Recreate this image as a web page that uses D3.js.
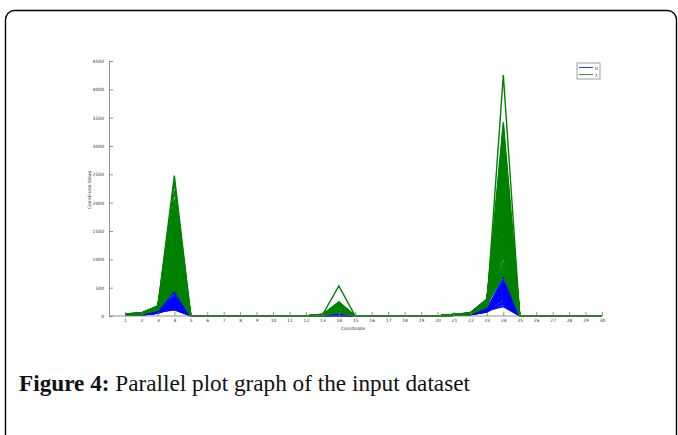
<!DOCTYPE html>
<html>
<head>
<meta charset="utf-8">
<script src="https://cdn.jsdelivr.net/npm/d3@7"></script>
<style>
  body { margin: 0; background: #fff; }
  svg { display: block; }
</style>
</head>
<body>
<svg id="chart" width="678" height="435"></svg>
<script>
// coordinates on the x axis and y tick values
var coords = [1,2,3,4,5,6,7,8,9,10,11,12,13,14,15,16,17,18,19,20,21,22,23,24,25,26,27,28,29,30];
var yTicks = [0,500,1000,1500,2000,2500,3000,3500,4000,4500];
var classNames = ['0', '1'];

// class 1 (green) values at the non-zero coordinates, one entry per line
var gC1 = [22,35,18,28,40,25,31,19,37,27,24,33,21,38,29,17,34,26,30,23,36,20,32,28,39,25,22,35,27,31,19,33,24,37,29,21,34,26,30,18,38,23,32,27,36,20,29,25,33,22,40,28,31,24,35,26,19,34,30,23];
var gC2 = [38,52,30,45,27,49,41,34,55,36,43,31,50,39,28,47,35,53,42,33,46,29,51,37,44,32,48,40,26,54,36,43,31,49,38,45,29,52,41,34,47,35,50,30,44,37,53,33,46,28,42,39,51,32,48,36,40,55,34,45];
var gC3 = [150,172,128,160,110,145,178,135,104,165,120,155,170,140,158,112,148,175,130,162,176,138,152,118,168,142,125,108,171,146,133,157,166,115,149,126,174,102,153,161,137,144,106,169,131,122,177,151,114,159,173,127,147,111,163,139,123,156,143,134];
var gC4 = [1320,2480,905,1745,620,1580,1990,1130,470,1860,760,1415,2210,1040,1690,545,1255,1905,830,1510,2360,980,1795,690,1360,1625,1085,505,1930,1190,870,1470,2060,725,1560,1005,1830,590,1290,1655,940,1400,460,1725,1150,790,1875,1235,650,1535,1960,1060,1445,560,1770,1210,880,1600,1340,1020];
var gC13 = [12,25,8,18,30,15,22,10,27,14,20,6,24,17,29,11,21,16,26,9,23,13,28,19,7,25,15,21,12,27,18,10,24,14,30,16,22,8,26,20,11,28,17,23,13,19,9,25,15,29,21,12,27,18,24,10,20,16,26,14];
var gC14 = [120,180,90,530,150,210,70,140,240,110,165,60,200,130,95,225,155,80,190,125,250,100,170,65,145,215,115,185,75,160,135,205,85,230,105,175,55,195,140,120,220,90,160,130,245,70,180,110,150,200,100,170,60,235,125,185,80,145,210,115];
var gC21 = [15,24,11,20,28,17,13,26,19,22,10,25,16,21,29,14,23,18,27,12,20,15,24,30,17,22,13,26,19,11,25,16,28,21,14,23,18,27,12,20,15,24,29,17,22,13,26,19,11,25,16,28,21,14,23,18,27,12,20,15];
var gC22 = [35,48,29,56,41,33,52,38,45,30,58,43,36,50,27,47,39,54,32,44,49,34,57,40,31,53,46,37,60,42,28,51,35,55,39,48,33,44,59,36,50,30,46,41,53,34,57,38,49,32,55,43,29,52,40,47,35,58,37,45];
var gC23 = [230,285,190,260,170,245,300,210,160,275,200,250,290,225,265,175,240,295,215,255,280,205,235,180,270,220,195,165,288,248,212,258,272,185,238,198,292,155,244,262,218,228,168,278,208,192,296,242,178,252,283,202,232,172,268,222,188,256,236,214];
var gC24 = [2140,3420,1260,2870,4250,1580,2660,960,3180,1890,2410,780,2990,1420,2230,3320,1130,2760,1710,2050,870,2580,3060,1340,2320,1950,720,2920,1610,2480,1040,3240,2180,1500,2700,1820,2380,910,2810,1190,2000,3110,1660,2540,1280,2950,820,2270,1760,2620,1380,3010,1930,2450,1090,2840,1540,2200,750,2730];

// class 0 (blue) values at the non-zero coordinates
var bC1 = [20,28,16,24,32,18,26,22,30,15,25,19,27,21,33,17,29,23,31,20,26,18,24,28,16,22,30,19,27,25];
var bC2 = [18,25,14,22,28,16,24,20,27,13,23,17,26,19,29,15,21,24,18,26,20,23,16,28,19,25,14,22,27,21];
var bC3 = [60,88,45,72,95,52,80,66,92,48,75,58,85,63,98,50,78,70,90,55,82,62,74,96,47,68,86,57,79,65];
var bC4 = [210,480,160,300,120,250,420,185,340,140,270,200,385,115,230,315,170,445,260,150,290,190,360,130,240,325,175,280,220,105];
var bC13 = [5,10,3,8,12,6,9,4,11,7,5,10,3,8,12,6,9,4,11,7,5,10,3,8,12,6,9,4,11,7];
var bC14 = [12,20,8,16,24,10,18,14,22,9,15,11,21,13,25,7,17,19,12,23,10,16,14,20,8,18,22,11,15,13];
var bC21 = [12,18,9,15,21,11,17,14,20,10,16,13,19,12,22,8,15,18,11,20,14,17,10,19,13,16,21,9,18,12];
var bC22 = [25,34,20,30,38,23,32,28,36,21,29,26,35,24,40,22,31,33,27,37,25,30,23,36,28,32,39,22,34,26];
var bC23 = [85,120,70,100,130,78,112,95,125,66,105,88,118,92,128,72,108,98,115,80,102,90,110,122,75,96,126,82,114,93];
var bC24 = [380,690,260,520,200,450,610,310,560,230,470,350,640,180,410,540,280,590,430,250,500,330,580,215,400,545,300,460,370,165];

var greenCols = {1: gC1, 2: gC2, 3: gC3, 4: gC4, 13: gC13, 14: gC14, 21: gC21, 22: gC22, 23: gC23, 24: gC24};
var blueCols = {1: bC1, 2: bC2, 3: bC3, 4: bC4, 13: bC13, 14: bC14, 21: bC21, 22: bC22, 23: bC23, 24: bC24};

function buildLines(cols, n) {
    var out = [];
    for (var i = 0; i < n; i++) {
        out.push(coords.map(function (c) { return cols[c] ? cols[c][i] : 0; }));
    }
    return out;
}
var blueLines = buildLines(blueCols, bC4.length);
var greenLines = buildLines(greenCols, gC4.length);

var svg = d3.select('#chart');

// page frame
svg.append('rect')
    .attr('x', 5.5).attr('y', 10.5)
    .attr('width', 671).attr('height', 445)
    .attr('rx', 9)
    .style('fill', 'none').style('stroke', '#000').style('stroke-width', 1.4);

var x = d3.scaleLinear().domain([1, 30]).range([125, 602]),
    y = d3.scaleLinear().domain([0, 4500]).range([316, 61]);

var line = d3.line()
    .x(function (d, i) { return x(coords[i]); })
    .y(function (d) { return y(d); });

var plot = svg.append('g');
plot.selectAll('.blue').data(blueLines).enter()
    .append('path')
    .attr('class', 'blue')
    .attr('d', line)
    .style('fill', 'none').style('stroke', '#0000ff').style('stroke-width', 1.1);
plot.selectAll('.green').data(greenLines).enter()
    .append('path')
    .attr('class', 'green')
    .attr('d', line)
    .style('fill', 'none').style('stroke', '#008000').style('stroke-width', 1.4);

// axes, matlab style with inward ticks
var font = '"DejaVu Sans", sans-serif';
var xAxis = svg.append('g').attr('transform', 'translate(0,316)')
    .call(d3.axisBottom(x).tickValues(coords).tickSizeInner(-4).tickSizeOuter(0).tickPadding(3));
var yAxis = svg.append('g').attr('transform', 'translate(109,0)')
    .call(d3.axisLeft(y).tickValues(yTicks).tickFormat(d3.format('d')).tickSizeInner(-4).tickSizeOuter(0).tickPadding(5));
[xAxis, yAxis].forEach(function (a) {
    a.select('.domain').style('stroke', '#777').style('stroke-width', 0.8);
    a.selectAll('.tick line').style('stroke', '#777').style('stroke-width', 0.8);
    a.selectAll('.tick text').style('font-family', font).style('font-size', '4.5px').style('fill', '#333');
});
xAxis.select('.domain').attr('d', 'M109,0H' + x(30));

svg.append('text')
    .attr('x', 353).attr('y', 330)
    .attr('text-anchor', 'middle')
    .style('font-family', font).style('font-size', '4.5px').style('fill', '#333')
    .text('Coordinate');
svg.append('text')
    .attr('transform', 'translate(91,190) rotate(-90)')
    .attr('text-anchor', 'middle')
    .style('font-family', font).style('font-size', '4.5px').style('fill', '#333')
    .text('Coordinate Value');

// legend
var legend = svg.append('g').attr('transform', 'translate(577,63)');
legend.append('rect')
    .attr('width', 23).attr('height', 16)
    .style('fill', '#fff').style('stroke', '#888').style('stroke-width', 0.8);
[['#0000ff', classNames[0]], ['#008000', classNames[1]]].forEach(function (l, i) {
    legend.append('line')
        .attr('x1', 2).attr('x2', 16)
        .attr('y1', 4.5 + i * 7).attr('y2', 4.5 + i * 7)
        .style('stroke', l[0]).style('stroke-width', 0.8);
    legend.append('text')
        .attr('x', 18).attr('y', 6.5 + i * 7)
        .style('font-family', font).style('font-size', '4.5px').style('fill', '#333')
        .text(l[1]);
});

// caption, sized so it spans the same width as in the figure
var cap = svg.append('text')
    .attr('x', 19).attr('y', 391)
    .style('font-family', '"Liberation Serif", serif').style('font-size', '20px').style('fill', '#111');
cap.append('tspan').style('font-weight', 'bold').text('Figure 4:');
cap.append('tspan').text(' Parallel plot graph of the input dataset');
var w = cap.node().getComputedTextLength();
cap.style('font-size', (20 * 451 / w).toFixed(2) + 'px');
</script>
</body>
</html>
